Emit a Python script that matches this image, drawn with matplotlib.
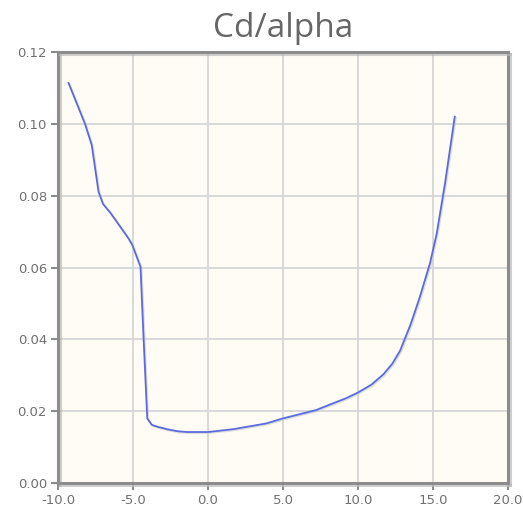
import matplotlib
matplotlib.use('Agg')
import matplotlib.pyplot as plt
import matplotlib.patheffects as pe

alpha = [-9.3, -8.2, -7.75, -7.3, -7.0, -6.5, -5.3, -5.05, -4.5, -4.3, -4.05,
         -3.75, -3.4, -2.75, -2.0, -1.4, 0.0, 1.7, 3.9, 5.0, 7.2, 8.1, 9.2, 10.0,
         10.9, 11.7, 12.3, 12.8, 13.5, 14.1, 14.8, 15.25, 15.8, 16.45]
cd = [0.1114, 0.1000, 0.0941, 0.0811, 0.0777, 0.0752, 0.0681, 0.0663, 0.0602,
      0.0407, 0.0180, 0.0162, 0.0157, 0.0150, 0.0144, 0.0142, 0.0142, 0.0150, 0.0166,
      0.0180, 0.0203, 0.0218, 0.0236, 0.0252, 0.0274, 0.0303, 0.0333, 0.0368, 0.0441,
      0.0515, 0.0612, 0.0695, 0.0834, 0.1020]

xticks = [-10, -5, 0, 5, 10, 15, 20]
yticks = [0.0, 0.02, 0.04, 0.06, 0.08, 0.10, 0.12]

fig = plt.figure(figsize=(5.23, 5.15), dpi=100)
ax = fig.add_axes([0.1109, 0.0621, 0.8604, 0.8369])
ax.set_facecolor('#fffcf5')

ax.plot(alpha, cd, color='#5a6be0', lw=1.3, solid_joinstyle='round',
        path_effects=[pe.SimpleLineShadow(offset=(0.8, -0.8), shadow_color='#c8c8c8', alpha=0.6), pe.Normal()])

ax.set_xlim(-10, 20)
ax.set_ylim(0, 0.12)
ax.set_xticks(xticks)
ax.set_yticks(yticks)
ax.set_xticklabels(['%.1f' % v for v in xticks])
ax.set_yticklabels(['%.2f' % v for v in yticks])
ax.grid(True, color='#d6d6d6', lw=1.3)
ax.set_axisbelow(True)

for s in ax.spines.values():
    s.set_color('#8c8c8c')
    s.set_linewidth(2.2)
    s.set_path_effects([pe.SimpleLineShadow(offset=(1.2, -1.2), shadow_color='#bbbbbb', alpha=0.7), pe.Normal()])

ax.tick_params(colors='#8c8c8c', length=5, width=1.5, labelsize=9.5, labelcolor='#707070', pad=3)
for lab in ax.get_xticklabels() + ax.get_yticklabels():
    lab.set_fontfamily('DejaVu Sans')

fig.text(0.541, 0.945, 'Cd/alpha', ha='center', va='center', fontsize=24,
         color='#666666', fontfamily='Open Sans')

fig.savefig('out.png', dpi=100)
